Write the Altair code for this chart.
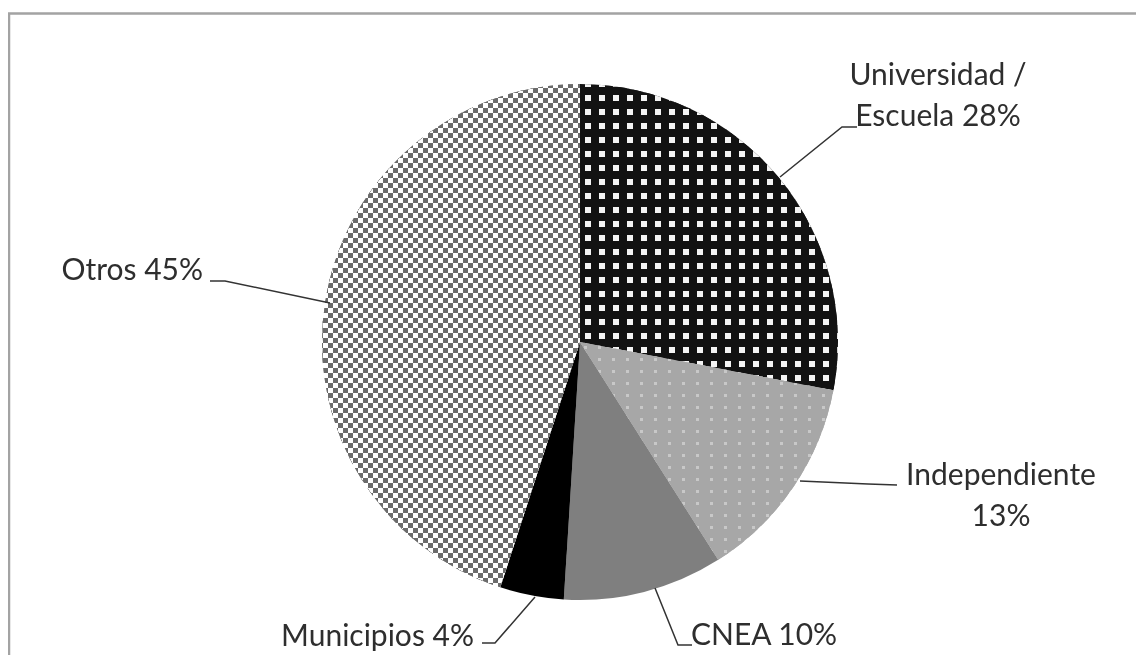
import math
import altair as alt
import pandas as pd

# ---------------- data ----------------
categories = ["Universidad / Escuela", "Independiente", "CNEA", "Municipios", "Otros"]
values = [28, 13, 10, 4, 45]
label_texts = ["Universidad /\nEscuela 28%", "Independiente\n13%", "CNEA 10%", "Municipios 4%", "Otros 45%"]

# ---------------- layout / style ----------------
W, H = 1128, 647
CX, CY, R = 572, 334, 258
TOTAL = sum(values)
base_fills = ["#121212", "#a7a7a7", "#7f7f7f", "#000000", "#ffffff"]
TEXT_COLOR = "#2e2e2e"
FONT = "Lato"
FONT_SIZE = 30

label_pos = {  # x, y(baseline of first line), align
    "Universidad / Escuela": (930, 77, "center"),
    "Independiente": (993, 477, "center"),
    "CNEA": (683, 637, "left"),
    "Municipios": (466, 638, "right"),
    "Otros": (195, 272, "right"),
}
leader_pts = {
    "Universidad / Escuela": [(772, 169), (834, 119), (849, 119)],
    "Independiente": [(792, 473), (860, 476), (889, 477)],
    "CNEA": [(647, 580), (670, 637), (684, 637)],
    "Municipios": [(527, 589), (487, 635), (474, 635)],
    "Otros": [(202, 273), (217, 273), (322, 295)],
}

df = pd.DataFrame({"category": categories, "value": values, "idx": list(range(len(categories)))})

# angular extents (for pattern geometry only)
angles = {}
acc = 0
for c, v in zip(categories, values):
    a0 = acc / TOTAL * 360
    acc += v
    angles[c] = (a0, acc / TOTAL * 360)


def sector_bbox(a0, a1):
    pts = [(CX, CY)]
    for a in [a0, a1] + [m for m in (0, 90, 180, 270, 360) if a0 < m < a1]:
        t = math.radians(a)
        pts.append((CX + R * math.sin(t), CY - R * math.cos(t)))
    xs, ys = zip(*pts)
    return min(xs), max(xs), min(ys), max(ys)


def stripe_gradient(cat, axis, period, width, phase, on, off="rgba(255,255,255,0)"):
    x0, x1, y0, y1 = sector_bbox(*angles[cat])
    lo, hi = (x0, x1) if axis == "x" else (y0, y1)
    span = hi - lo
    stops = []
    k = math.floor((lo - phase) / period) - 1
    while True:
        s = phase + k * period
        if s > hi:
            break
        e = s + width
        os_ = min(max((s - lo) / span, 0.0), 1.0)
        oe = min(max((e - lo) / span, 0.0), 1.0)
        if oe > 0 and os_ < 1:
            for o, col in ((os_, off), (os_, on), (oe, on), (oe, off)):
                stops.append({"offset": round(o, 5), "color": col})
        k += 1
    return {
        "gradient": "linear",
        "x1": 0, "y1": 0,
        "x2": 1 if axis == "x" else 0,
        "y2": 0 if axis == "x" else 1,
        "stops": stops,
    }


pie = alt.Chart(df).transform_window(
    end="sum(value)", sort=[alt.SortField("idx")], frame=[None, 0]
).transform_calculate(start="datum.end - datum.value")

theta_enc = dict(
    theta=alt.Theta("start:Q", scale=alt.Scale(domain=[0, TOTAL])),
    theta2=alt.Theta2("end:Q"),
    x=alt.value(CX),
    y=alt.value(CY),
)

base = pie.mark_arc(radius=R).encode(
    color=alt.Color("category:N", scale=alt.Scale(domain=categories, range=base_fills), legend=None),
    **theta_enc,
)


def slice_layer(cat, **kw):
    return pie.transform_filter(alt.datum.category == cat).mark_arc(radius=R, **kw).encode(**theta_enc)


U, I, O = categories[0], categories[1], categories[4]
patterns = [
    # Universidad: white dots on black
    slice_layer(U, fill=stripe_gradient(U, "x", 14, 6, 3, "#f4f4f4")),
    slice_layer(U, fill=stripe_gradient(U, "y", 14, 8, 9, base_fills[0])),
    # Independiente: light dots on grey
    slice_layer(I, fill=stripe_gradient(I, "x", 14, 3, 2, "#c8c8c8")),
    slice_layer(I, fill=stripe_gradient(I, "y", 12, 9, 5, base_fills[1])),
    # Otros: grey/white checkerboard
    slice_layer(O, fill=stripe_gradient(O, "x", 10, 5, 0, "#000000")),
    slice_layer(O, fill=stripe_gradient(O, "y", 10, 5, 0, "#ffffff"), blend="difference"),
    slice_layer(O, fill="#ffffff", fillOpacity=0.42),
]

# border (top & left visible)
border = alt.Chart(pd.DataFrame({"a": [0]})).mark_rect(
    filled=False, stroke="#a3a3a3", strokeWidth=2.5
).encode(x=alt.value(1), y=alt.value(5.5), x2=alt.value(1500), y2=alt.value(1000))

# leader lines
line_rows = []
for c in categories:
    for i, (px, py) in enumerate(leader_pts[c]):
        line_rows.append({"category": c, "pt": i, "px": px, "py": py})
leaders = alt.Chart(pd.DataFrame(line_rows)).mark_line(color="#333333", strokeWidth=1.5).encode(
    x=alt.X("px:Q", scale=None), y=alt.Y("py:Q", scale=None), detail="category:N", order="pt:Q"
)

# labels
lab_rows = []
for c, t in zip(categories, label_texts):
    x, y, al = label_pos[c]
    lab_rows.append({"category": c, "text": t, "lx": x, "ly": y, "align": al})
lab_df = pd.DataFrame(lab_rows)

text_layers = []
for al in ("center", "left", "right"):
    sub = lab_df[lab_df["align"] == al]
    text_layers.append(
        alt.Chart(sub).mark_text(
            align=al, baseline="alphabetic", font=FONT, fontSize=FONT_SIZE,
            color=TEXT_COLOR, lineBreak="\n", lineHeight=41,
        ).encode(x=alt.X("lx:Q", scale=None), y=alt.Y("ly:Q", scale=None), text="text:N")
    )

chart = alt.layer(border, base, *patterns, leaders, *text_layers).properties(
    width=W, height=H, autosize=alt.AutoSizeParams(type="none"), padding=0
).configure_view(stroke=None)

chart.save("out.html", embed_options={"renderer": "svg", "actions": False})
